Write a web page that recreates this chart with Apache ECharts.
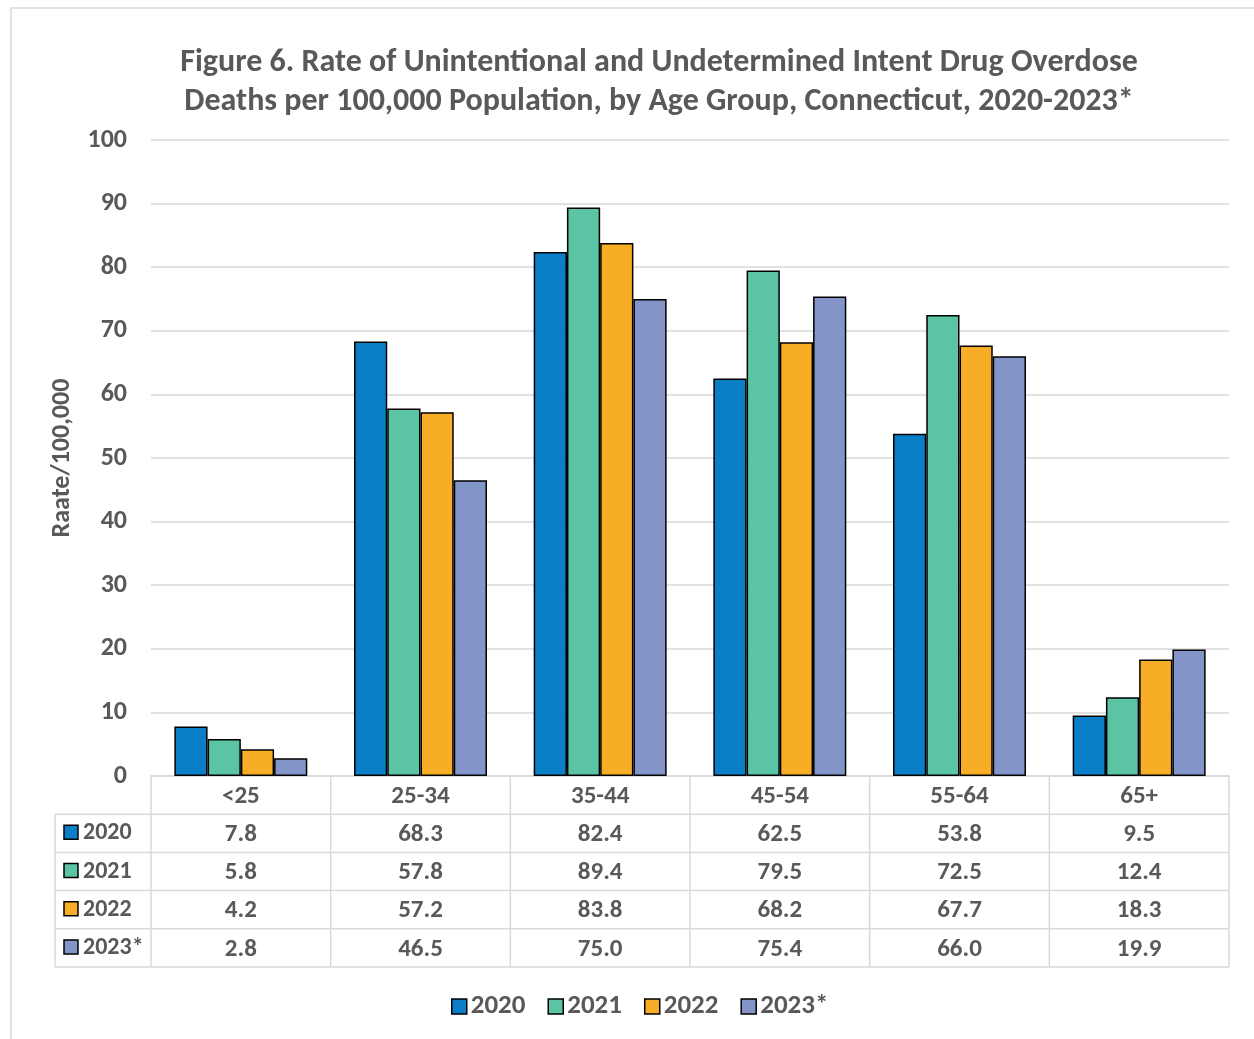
<!DOCTYPE html>
<html>
<head>
<meta charset="utf-8">
<script src="https://cdn.jsdelivr.net/npm/echarts@6/dist/echarts.min.js"></script>
<style>
  html, body { margin: 0; padding: 0; background: #fff; }
  #chart { width: 1254px; height: 1039px; }
</style>
</head>
<body>
<div id="chart"></div>
<script>
// Age groups on the category axis
const categories = ['<25', '25-34', '35-44', '45-54', '55-64', '65+'];
// Series (years)
const seriesNames = ['2020', '2021', '2022', '2023*'];
// Rates per 100,000 population
const rate2020 = [7.8, 68.3, 82.4, 62.5, 53.8, 9.5];
const rate2021 = [5.8, 57.8, 89.4, 79.5, 72.5, 12.4];
const rate2022 = [4.2, 57.2, 83.8, 68.2, 67.7, 18.3];
const rate2023 = [2.8, 46.5, 75.0, 75.4, 66.0, 19.9];
// Y axis ticks
const yMin = 0, yMax = 100, yStep = 10;

const rates = [rate2020, rate2021, rate2022, rate2023];
const colors = ['#0A7FC7', '#5BC4A4', '#F8AD27', '#8394C8'];
const textColor = '#595959';
const lineColor = '#D9D9D9';
const FONT = 'Carlito, Lato, sans-serif';
const rowH = 38.2;

const chart = echarts.init(document.getElementById('chart'));

// Data-table rows are extra category axes stacked under the plot
const tableAxes = rates.map((vals, k) => ({
  type: 'category',
  gridIndex: 0,
  position: 'bottom',
  offset: (k + 1) * rowH,
  data: categories,
  axisLine: { show: false },
  axisTick: { show: false },
  axisLabel: {
    margin: 8,
    interval: 0,
    color: textColor,
    fontFamily: FONT,
    fontWeight: 'bold',
    fontSize: 25,
    formatter: (v, idx) => vals[idx].toFixed(1)
  }
}));

const option = {
  backgroundColor: '#fff',
  animation: false,
  title: {
    text: 'Figure 6. Rate of Unintentional and Undetermined Intent Drug Overdose\nDeaths per 100,000 Population, by Age Group, Connecticut, 2020-2023*',
    left: 654,
    top: 38,
    textAlign: 'center',
    textStyle: {
      color: textColor,
      fontFamily: FONT,
      fontWeight: 'bold',
      fontSize: 32,
      lineHeight: 39
    }
  },
  legend: {
    data: seriesNames,
    left: 446,
    top: 988,
    icon: 'rect',
    itemWidth: 15,
    itemHeight: 15,
    itemGap: 22,
    itemStyle: { borderColor: '#000', borderWidth: 1.5 },
    textStyle: { color: textColor, fontFamily: FONT, fontWeight: 'bold', fontSize: 27, padding: [0, 0, 0, -1] }
  },
  grid: { left: 151, right: 25, top: 140, bottom: 263 },
  xAxis: [{
    type: 'category',
    data: categories,
    axisLine: { show: true, lineStyle: { color: lineColor, width: 1.5 } },
    axisTick: { show: false },
    axisLabel: {
      margin: 8,
      interval: 0,
      color: textColor,
      fontFamily: FONT,
      fontWeight: 'bold',
      fontSize: 25
    }
  }].concat(tableAxes),
  yAxis: {
    type: 'value',
    min: yMin,
    max: yMax,
    interval: yStep,
    name: 'Raate/100,000',
    nameLocation: 'middle',
    nameGap: 76,
    nameTextStyle: { color: textColor, fontFamily: FONT, fontWeight: 'bold', fontSize: 26 },
    axisLine: { show: false },
    axisTick: { show: false },
    axisLabel: { margin: 24, color: textColor, fontFamily: FONT, fontWeight: 'bold', fontSize: 26 },
    splitLine: { lineStyle: { color: lineColor, width: 1.5 } }
  },
  series: rates.map((vals, k) => ({
    name: seriesNames[k],
    type: 'bar',
    data: vals,
    barGap: '0%',
    barCategoryGap: '26%',
    itemStyle: { color: colors[k], borderColor: '#000', borderWidth: 1.5 }
  }))
};

chart.setOption(option);

// Table grid lines and row keys, placed from the axis scales
function buildTable() {
  const c0 = chart.convertToPixel({ xAxisIndex: 0 }, categories[0]);
  const c1 = chart.convertToPixel({ xAxisIndex: 0 }, categories[1]);
  const band = c1 - c0;
  const gx0 = c0 - band / 2;
  const gx1 = gx0 + band * categories.length;
  const y0 = chart.convertToPixel({ yAxisIndex: 0 }, yMin);
  const tableLeft = 55;
  const yEnd = y0 + (rates.length + 1) * rowH;
  const els = [];
  const ls = { stroke: lineColor, lineWidth: 1.5 };

  // outer chart-area border
  els.push({ type: 'rect', shape: { x: 11, y: 8, width: 1300, height: 1100 },
    style: { fill: 'none', stroke: lineColor, lineWidth: 1.5 }, silent: true });

  for (let k = 1; k <= rates.length + 1; k++) {
    const y = y0 + k * rowH;
    els.push({ type: 'line', shape: { x1: tableLeft, y1: y, x2: gx1, y2: y }, style: ls, silent: true });
  }
  els.push({ type: 'line', shape: { x1: tableLeft, y1: y0 + rowH, x2: tableLeft, y2: yEnd }, style: ls, silent: true });
  for (let i = 0; i <= categories.length; i++) {
    const x = gx0 + i * band;
    els.push({ type: 'line', shape: { x1: x, y1: y0, x2: x, y2: yEnd }, style: ls, silent: true });
  }
  seriesNames.forEach((nm, k) => {
    const cy = y0 + (k + 1) * rowH + rowH / 2;
    els.push({ type: 'rect', shape: { x: 64, y: cy - 8, width: 14, height: 14 },
      style: { fill: colors[k], stroke: '#000', lineWidth: 1.5 }, silent: true });
    els.push({ type: 'text', x: 83, y: cy,
      style: { text: nm, fill: textColor, font: 'bold 24px ' + FONT, textVerticalAlign: 'middle', verticalAlign: 'middle' }, silent: true });
  });
  chart.setOption({ graphic: { elements: els } });
}
buildTable();
</script>
</body>
</html>
